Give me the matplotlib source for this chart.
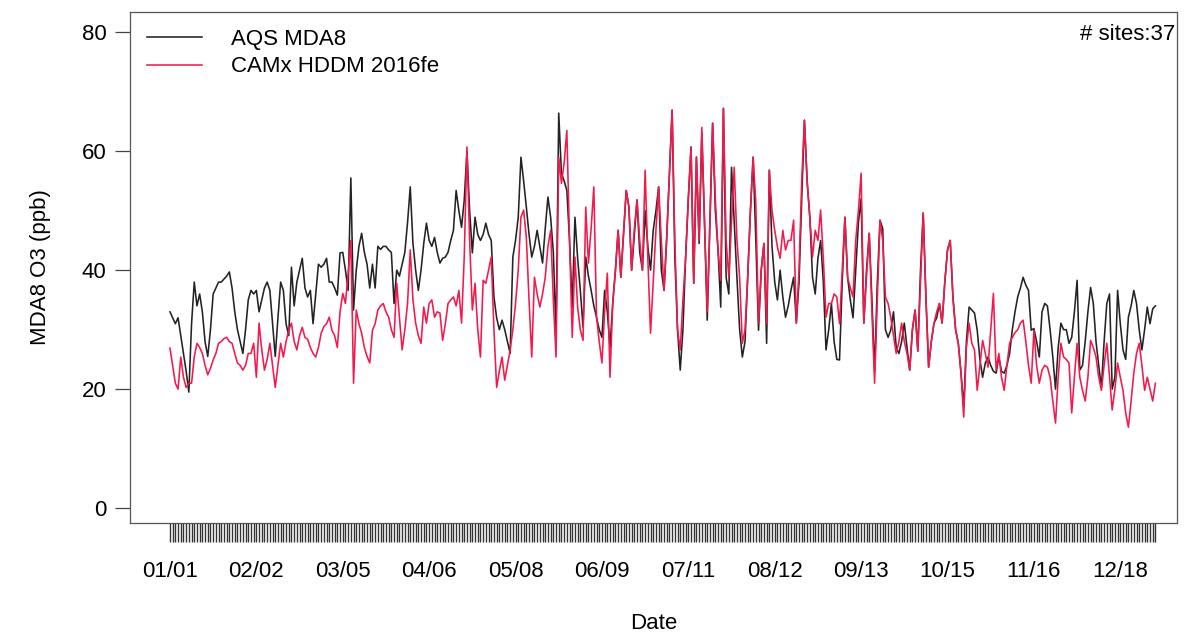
import matplotlib as mpl
mpl.use('Agg')
import matplotlib.pyplot as plt
import numpy as np

# daily MDA8 O3 (ppb), 2016-01-01 .. 2016-12-31
obs = [33, 32, 31, 32, 29, 26, 23, 19.5, 31, 38,
       34, 36, 33, 28, 25.5, 30, 36, 37, 38, 38,
       38.5, 39, 39.7, 37, 33, 30, 28, 26, 30, 35,
       36.6, 36, 36.6, 33, 35, 37, 38, 36.6, 31, 25.5,
       32, 38, 36.6, 31, 29, 40.5, 34, 38, 40, 42,
       37, 35.5, 36.6, 31, 36, 41, 40.5, 41, 42, 38,
       38, 37, 35.8, 42.9, 43, 40, 36.6, 55.5, 33.3, 40,
       44, 46.2, 43, 41, 37, 41, 37, 44, 43.5, 44,
       44, 43.4, 43, 34.4, 40, 39, 41, 43, 48, 54,
       44.5, 40, 36.6, 40, 44.5, 47.9, 45, 44, 45.5, 43,
       41.2, 42, 42.2, 43, 45, 46.7, 53.4, 50, 47.2, 51.8,
       60, 50, 42.9, 48.9, 46, 45, 46, 47.9, 46, 45,
       35.5, 32, 30, 31.6, 30, 28, 26, 42.2, 45, 48.9,
       59, 55, 50.6, 46, 42.2, 44, 46.7, 44, 41.2, 47,
       52.3, 48.9, 43, 29.4, 66.4, 56.3, 55, 53.4, 45, 33.8,
       48.9, 42, 36.6, 30.4, 42.2, 39, 36.6, 34, 32.1, 30,
       28.7, 36.6, 33, 27, 34.4, 40, 46.7, 38.8, 46, 53.4,
       50.6, 40, 46, 51.8, 43, 40, 50, 44, 40, 46.7,
       50, 54, 40, 36.6, 45.5, 56.3, 66.9, 42.2, 30, 23.2,
       30, 42.2, 52, 60.7, 37.8, 59, 44.5, 63, 48, 31.6,
       48, 64.7, 50, 43.4, 33.8, 67.2, 38.8, 36, 57.3, 48,
       38.8, 30, 25.4, 28, 38.8, 50, 59, 45, 29.9, 40,
       44.5, 27.7, 56.8, 44, 38, 35, 40, 35.5, 32.1, 34,
       36.6, 38.8, 31.1, 38, 52, 65.2, 55, 48.9, 38.8, 36,
       42, 45, 38, 26.6, 30, 34.4, 28, 25, 24.9, 38,
       48.9, 38.8, 35, 32, 40, 48, 52, 31.1, 40, 46.2,
       35, 23, 38, 48.4, 47, 30, 28.7, 30, 33, 27,
       26, 28, 31.1, 27, 23.2, 30, 33.3, 26.4, 40, 49.6,
       35.5, 23.7, 28, 31.1, 32, 34.4, 31.1, 38, 43.4, 45,
       35.5, 30, 27.7, 22.7, 17, 28, 33.8, 33.3, 32.8, 29.9,
       25, 22, 24.4, 25.4, 24, 23, 22.7, 25.4, 23, 22.7,
       24, 26, 30, 33, 35.5, 37, 38.8, 37.5, 36.6, 29.9,
       30.2, 28, 25.4, 33, 34.4, 34, 30, 25.4, 20, 27,
       31.1, 30, 30, 27.7, 28.7, 33, 38.3, 23.2, 24, 28,
       33, 37.1, 34.4, 28, 24, 20.3, 28, 34.4, 36, 20,
       22, 36.6, 31, 26.6, 25, 32.1, 34, 36.6, 34.4, 30,
       26.6, 30, 33.8, 31, 33.5, 34]

camx = [26.9, 24, 21, 20, 25.4, 22, 20.3, 21, 21, 25.4,
        27.7, 27, 26, 24, 22.4, 23.5, 24.9, 26, 27.7, 28,
        28.5, 28.7, 28, 27.7, 26, 24.4, 24, 23.2, 24, 26,
        26, 27.7, 22, 31.1, 26.6, 23.2, 25, 27.7, 24, 20.3,
        24, 27.7, 25.4, 28, 29.9, 31.1, 28, 26.6, 29, 30.4,
        28.7, 28.4, 27, 26, 25.4, 27, 29.4, 30.5, 31, 32.1,
        29.9, 29, 27, 33, 36.1, 34.4, 39.5, 45, 21, 33.3,
        31, 29.4, 27, 25.5, 24.4, 29.9, 31, 33.3, 34, 34.4,
        33, 32.1, 30, 28.7, 37.8, 32, 26.6, 30, 34.4, 43.4,
        35, 31.1, 29, 27.7, 33.8, 31.1, 34.4, 35, 32.1, 33,
        32.8, 28.2, 31, 34.4, 35, 35.5, 34, 36.6, 31.1, 42.2,
        60.7, 45, 33.3, 37.8, 30, 25.4, 38.3, 37.8, 40, 42.2,
        30, 20.3, 23, 25.4, 21.5, 24, 26.6, 30, 34.4, 40,
        48.9, 50.1, 45.5, 35, 25.4, 38.8, 36, 33.8, 36, 38.8,
        44, 46.7, 35, 25.4, 59, 54.6, 58, 63.5, 45, 28.7,
        42.2, 33.8, 30, 28.2, 50.6, 41.2, 47, 54, 32.1, 28,
        24.4, 33, 39.5, 22, 34.4, 40, 46.7, 38.8, 46, 53.4,
        50.6, 40, 47, 51.8, 45, 40, 56.8, 42, 29.4, 38,
        46.7, 54, 45, 36.6, 45.5, 56.3, 66.9, 45, 30, 26.6,
        35, 42.2, 52, 60.7, 37.8, 59, 45, 64, 47.9, 33,
        48, 64.7, 52, 43.4, 38.3, 67.2, 45, 38.8, 48, 57.3,
        45, 38.8, 27.7, 30, 38.8, 50, 59, 51.3, 31.1, 40,
        44.5, 31, 56.8, 50, 46.7, 43.9, 42, 46.7, 43.4, 45,
        45, 48.4, 31.1, 40, 55, 65.2, 55, 48.9, 42.2, 46.7,
        45, 50.1, 42, 32.1, 34.4, 34.4, 36, 35.5, 31, 40,
        48.9, 38.8, 37, 35.5, 45, 50, 56.3, 31.1, 39, 46.2,
        33, 21, 35, 48.4, 45, 35.5, 34.4, 32, 29, 26,
        28, 31.1, 28, 26, 23.2, 30, 33.3, 26.4, 38, 49.6,
        35.5, 23.7, 28, 31.1, 33, 34.4, 31.1, 38, 43.4, 45,
        35.5, 30, 27.7, 22.7, 15.3, 27, 31.1, 27.7, 26.6, 19.8,
        24, 28.2, 26, 23.7, 30, 36.1, 23.2, 26, 22, 19.8,
        24, 27.7, 28.7, 29.5, 30, 31.1, 31.6, 28, 24, 21,
        29.9, 24, 21, 23.2, 24, 23.7, 22, 18, 14.3, 22,
        27.7, 25.4, 25, 24.4, 16, 22, 27.7, 22, 19.8, 18,
        22, 28.2, 27, 25.4, 22, 19.8, 24, 27.7, 22, 16.5,
        20, 24.4, 22, 19.8, 16, 13.6, 18, 22.7, 26, 27.7,
        24, 19.8, 22, 20, 18, 21]

date_labels = ['01/01', '02/02', '03/05', '04/06', '05/08', '06/09',
               '07/11', '08/12', '09/13', '10/15', '11/16', '12/18']
yticks = [0, 20, 40, 60, 80]

plt.rcParams['font.family'] = ['Liberation Sans', 'DejaVu Sans']

days = np.arange(len(obs))

fig = plt.figure(figsize=(11.9, 6.39), dpi=100)
ax = fig.add_axes([130 / 1190, 1 - 523 / 639, 1047 / 1190, 511 / 639])

ax.plot(days, obs, color='#232323', lw=1.15, label='AQS MDA8')
ax.plot(days, camx, color='#f5184c', lw=1.15, label='CAMx HDDM 2016fe')

ax.set_xlim(-14.8, 373)
ax.set_ylim(-2.5, 83.4)

ax.set_xticks(days[::32])
ax.set_xticklabels(date_labels[:len(days[::32])])
ax.set_xticks(days, minor=True)
ax.tick_params(axis='x', which='both', length=13.5, width=1.0, color='#333333',
               direction='out', labelsize=16, pad=14)
ax.set_yticks(yticks)
ax.tick_params(axis='y', length=11, width=0.9, color='#444444', labelsize=16, pad=6)

for s in ax.spines.values():
    s.set_color('#555555')
    s.set_linewidth(0.9)

ax.set_xlabel('Date', fontsize=16, labelpad=22)
ax.set_ylabel('MDA8 O3 (ppb)', fontsize=16, labelpad=22)

leg = ax.legend(loc='upper left', frameon=False, fontsize=16, handlelength=2.5,
                handletextpad=1.3, borderaxespad=0.35, labelspacing=0.3,
                borderpad=0.4)
ax.text(0.998, 0.955, '# sites:37', transform=ax.transAxes, ha='right', va='center',
        fontsize=16)

fig.savefig('out.png', dpi=100)
